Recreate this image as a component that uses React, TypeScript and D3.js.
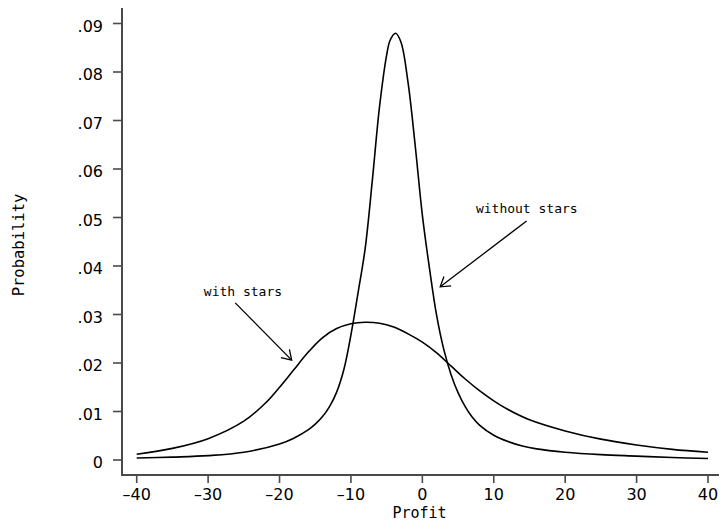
import React from "react";
import * as d3 from "d3";

const W = 720;
const H = 526;

// "without stars" density (narrow, tall)
const withoutX = [-40, -35, -30, -25, -20, -18, -16, -15, -14, -13, -12, -11, -10, -9, -8, -7, -6, -5, -4.5, -3.75, -3, -2, -1, 0, 1, 2, 3, 4, 5, 6, 7, 8, 10, 12, 14, 16, 20, 25, 30, 35, 40];
const withoutY = [0.0004, 0.0006, 0.0009, 0.0016, 0.0033, 0.0045, 0.0062, 0.0074, 0.0089, 0.011, 0.014, 0.0186, 0.0258, 0.0345, 0.0437, 0.0577, 0.0728, 0.0835, 0.0866, 0.088, 0.0862, 0.0778, 0.0648, 0.0505, 0.0395, 0.0298, 0.0228, 0.0177, 0.0139, 0.011, 0.0088, 0.0072, 0.0051, 0.0038, 0.0029, 0.0023, 0.0016, 0.0011, 0.0008, 0.0005, 0.0003];

// "with stars" density (broad)
const withX = [-40, -35, -30, -25, -22, -20, -18, -16, -14, -12, -10, -8, -6, -4, -2, 0, 2, 4, 6, 8, 10, 12, 15, 20, 25, 30, 35, 40];
const withY = [0.0012, 0.0024, 0.0044, 0.008, 0.0117, 0.015, 0.0186, 0.0222, 0.0252, 0.0271, 0.0281, 0.0284, 0.0282, 0.0274, 0.026, 0.0243, 0.0221, 0.0194, 0.0167, 0.0143, 0.0122, 0.0104, 0.0083, 0.006, 0.0043, 0.0031, 0.0022, 0.0016];

const xTicks = [-40, -30, -20, -10, 0, 10, 20, 30, 40];
const yTicks = [0, 0.01, 0.02, 0.03, 0.04, 0.05, 0.06, 0.07, 0.08, 0.09];
const yTickLabels = ["0", ".01", ".02", ".03", ".04", ".05", ".06", ".07", ".08", ".09"];

// annotations: label position and arrow (data coords)
const annLabels = ["with stars", "without stars"];
const annTextX = [-30.6, 7.5];
const annTextY = [0.0339, 0.0509];
const annFromX = [-26.2, 14.6];
const annFromY = [0.0324, 0.0493];
const annToX = [-18.3, 2.5];
const annToY = [0.0206, 0.0357];

export default function App() {
  const x = d3.scaleLinear().domain([-40, 40]).range([136.7, 708]);
  const y = d3.scaleLinear().domain([0, 0.09]).range([460, 23.5]);

  const line = d3
    .line<[number, number]>()
    .x((d) => x(d[0]))
    .y((d) => y(d[1]))
    .curve(d3.curveCatmullRom.alpha(0.5));

  const withoutPts = withoutX.map((v, i) => [v, withoutY[i]] as [number, number]);
  const withPts = withX.map((v, i) => [v, withY[i]] as [number, number]);

  const axisColor = "#4a4a4a";
  const sans = "'DejaVu Sans', Verdana, sans-serif";
  const mono = "'DejaVu Sans Mono', monospace";
  const axisX = 122;
  const axisY = 475;

  return (
    <svg
      width={W}
      height={H}
      style={{ position: "absolute", left: 0, top: 0, background: "#fff" }}
    >
      <rect x={0} y={0} width={W} height={H} fill="#fff" />
      {/* curves */}
      <path d={line(withPts) || ""} fill="none" stroke="#000" strokeWidth={1.6} />
      <path d={line(withoutPts) || ""} fill="none" stroke="#000" strokeWidth={1.6} />

      {/* axes */}
      <line x1={axisX} x2={axisX} y1={8} y2={axisY + 1} stroke={axisColor} strokeWidth={2} />
      <line x1={axisX - 1} x2={719} y1={axisY} y2={axisY} stroke={axisColor} strokeWidth={2} />

      {yTicks.map((t, i) => (
        <g key={"y" + i}>
          <line x1={113} x2={axisX} y1={y(t)} y2={y(t)} stroke={axisColor} strokeWidth={1.6} />
          <text
            x={103}
            y={y(t) + 8}
            textAnchor="end"
            fontFamily={sans}
            fontSize={16}
            fill="#000"
          >
            {yTickLabels[i]}
          </text>
        </g>
      ))}

      {xTicks.map((t, i) => (
        <g key={"x" + i}>
          <line x1={x(t)} x2={x(t)} y1={axisY} y2={axisY + 8} stroke={axisColor} strokeWidth={1.6} />
          <text
            x={x(t)}
            y={500}
            textAnchor="middle"
            fontFamily={sans}
            fontSize={16}
            fill="#000"
          >
            {t < 0 ? "\u2013" + Math.abs(t) : String(t)}
          </text>
        </g>
      ))}

      {/* axis titles */}
      <text x={419.5} y={518} textAnchor="middle" fontFamily={mono} fontSize={15} fill="#000">
        Profit
      </text>
      <text
        transform={`translate(23.5,245) rotate(-90)`}
        textAnchor="middle"
        fontFamily={mono}
        fontSize={15.5}
        fill="#000"
      >
        Probability
      </text>

      {/* annotations */}
      {annLabels.map((lab, i) => {
        const x1 = x(annFromX[i]);
        const y1 = y(annFromY[i]);
        const x2 = x(annToX[i]);
        const y2 = y(annToY[i]);
        const ang = Math.atan2(y2 - y1, x2 - x1);
        const len = 11;
        const spread = Math.PI / 5.5;
        const ax1 = x2 - len * Math.cos(ang - spread);
        const ay1 = y2 - len * Math.sin(ang - spread);
        const ax2 = x2 - len * Math.cos(ang + spread);
        const ay2 = y2 - len * Math.sin(ang + spread);
        return (
          <g key={"a" + i}>
            <text x={x(annTextX[i])} y={y(annTextY[i])} fontFamily={mono} fontSize={13} fill="#000">
              {lab}
            </text>
            <line x1={x1} y1={y1} x2={x2} y2={y2} stroke="#000" strokeWidth={1.3} />
            <polyline
              points={`${ax1},${ay1} ${x2},${y2} ${ax2},${ay2}`}
              fill="none"
              stroke="#000"
              strokeWidth={1.3}
            />
          </g>
        );
      })}
    </svg>
  );
}
